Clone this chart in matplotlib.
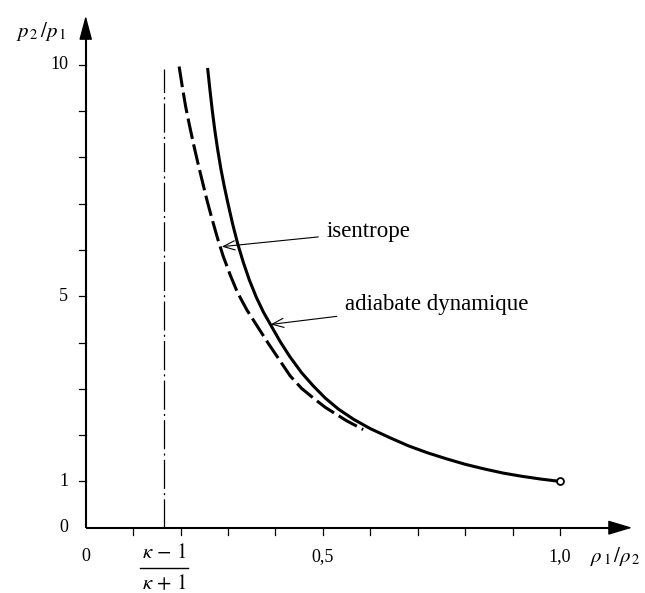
import matplotlib
matplotlib.use("Agg")
import matplotlib.pyplot as plt
from matplotlib.patches import FancyArrowPatch

plt.rcParams['font.family'] = ['Liberation Serif', 'DejaVu Serif']
plt.rcParams['mathtext.fontset'] = 'stix'
plt.rcParams['lines.scale_dashes'] = False

# ---- data ----
hug_x = [0.257, 0.262, 0.267, 0.272, 0.278, 0.285, 0.292, 0.300, 0.310, 0.320, 0.332,
         0.345, 0.360, 0.375, 0.390, 0.410, 0.430, 0.455, 0.480, 0.505, 0.533, 0.565,
         0.600, 0.640, 0.680, 0.720, 0.760, 0.800, 0.840, 0.880, 0.920, 0.960, 1.000]
hug_y = [9.93, 9.45, 9.00, 8.60, 8.18, 7.75, 7.38, 7.00, 6.55, 6.15, 5.74,
         5.35, 4.97, 4.65, 4.38, 4.02, 3.70, 3.35, 3.06, 2.80, 2.56, 2.34,
         2.14, 1.95, 1.77, 1.62, 1.49, 1.37, 1.27, 1.18, 1.11, 1.05, 1.00]
isen_x = [0.197, 0.204, 0.211, 0.219, 0.227, 0.236, 0.245, 0.255, 0.266, 0.278,
          0.290, 0.305, 0.320, 0.340, 0.360, 0.385, 0.410, 0.431, 0.455, 0.480,
          0.505, 0.522, 0.550, 0.585]
isen_y = [9.96, 9.50, 9.08, 8.68, 8.30, 7.90, 7.52, 7.10, 6.68, 6.25,
          5.86, 5.45, 5.08, 4.70, 4.38, 3.98, 3.60, 3.28, 3.01, 2.80,
          2.60, 2.49, 2.31, 2.12]
asymptote_x = 0.166
asymptote_top = 9.9
x_ticks = [0.1, 0.2, 0.3, 0.4, 0.5, 0.6, 0.7, 0.8, 0.9, 1.0]
x_labels = {0.0: "0", 0.5: "0,5", 1.0: "1,0"}
y_ticks = [1, 2, 3, 4, 5, 6, 7, 8, 9, 10]
y_labels = {0: "0", 1: "1", 5: "5", 10: "10"}

fig = plt.figure(figsize=(6.45, 5.93), dpi=100)
ax = fig.add_axes([0, 0, 1, 1])
ax.set_xlim(-0.1807, 1.1792)
ax.set_ylim(-1.410, 11.397)
ax.axis('off')

# axes with arrows
ax.plot([0, 0], [0, 10.6], color='black', lw=1.5, solid_capstyle='butt')
ax.plot([0, 1.12], [0, 0], color='black', lw=1.5, solid_capstyle='butt')
ax.add_patch(FancyArrowPatch((0, 10.5), (0, 11.12), arrowstyle='-|>,head_length=15,head_width=4',
                             mutation_scale=1, color='black', lw=1.0))
ax.add_patch(FancyArrowPatch((1.1, 0), (1.158, 0), arrowstyle='-|>,head_length=15,head_width=4.5',
                             mutation_scale=1, color='black', lw=1.0))

# ticks
for yt in y_ticks:
    ax.plot([-0.014, 0], [yt, yt], color='black', lw=0.9)
for xt in x_ticks:
    ax.plot([xt, xt], [0, -0.16], color='black', lw=0.9)

for yv, lab in y_labels.items():
    ax.text(-0.037, yv, lab, ha='right', va='center', fontsize=13)
for xv, lab in x_labels.items():
    ax.text(xv, -0.62, lab, ha='center', va='center', fontsize=13)

# kappa fraction label
ax.text(asymptote_x, -0.55, r"$\kappa\,-\,1$", ha='center', va='center', fontsize=15)
ax.plot([0.115, 0.216], [-0.864, -0.864], color='black', lw=1.0)
ax.text(asymptote_x, -1.22, r"$\kappa\,+\,1$", ha='center', va='center', fontsize=15)

# axis labels
ax.text(-0.094, 10.72, r"$p_{\,2}\,/p_{\,1}$", ha='center', va='center', fontsize=15)
ax.text(1.064, -0.62, r"$\rho_{\,1}\,/\rho_{\,2}$", ha='left', va='center', fontsize=15)

# asymptote
ax.plot([asymptote_x, asymptote_x], [0, asymptote_top], color='black', lw=0.9,
        dashes=(21, 3, 1.5, 3))

# curves
ax.plot(hug_x, hug_y, color='black', lw=2.2, solid_capstyle='butt', solid_joinstyle='round')
ax.plot(isen_x, isen_y, color='black', lw=2.2, dashes=(15, 4), dash_capstyle='butt')
ax.plot([hug_x[-1]], [hug_y[-1]], marker='o', ms=5, mfc='white', mec='black', mew=1.3)

# annotations
ax.annotate("isentrope", xy=(0.287, 6.07), xytext=(0.508, 6.39), fontsize=16.5,
            ha='left', va='center',
            arrowprops=dict(arrowstyle='->,head_length=0.5,head_width=0.2', lw=0.8,
                            color='black', shrinkA=4, shrinkB=0))
ax.annotate("adiabate dynamique", xy=(0.390, 4.39), xytext=(0.547, 4.83), fontsize=16.5,
            ha='left', va='center',
            arrowprops=dict(arrowstyle='->,head_length=0.5,head_width=0.2', lw=0.8,
                            color='black', shrinkA=4, shrinkB=0))

fig.savefig("out.png", dpi=100)
